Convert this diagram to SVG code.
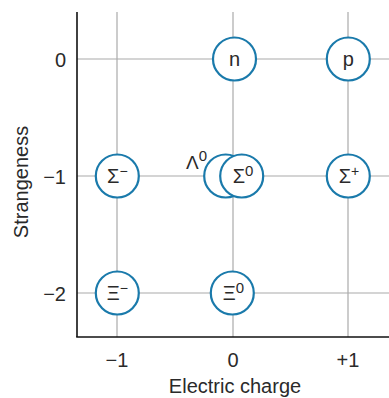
<svg xmlns="http://www.w3.org/2000/svg" width="389" height="398" viewBox="0 0 389 398">
<style>
text{font-family:"Liberation Sans","DejaVu Sans",sans-serif;fill:#2a2a2a}
.grid{stroke:#aaaaaa;stroke-width:1.2;fill:none}
.axis{stroke:#111;stroke-width:1.6;fill:none}
.node{fill:#fff;stroke:#1a7aab;stroke-width:2.2}
.tick{font-size:20px}
.lbl{font-size:20px;text-anchor:middle}
.sup{font-size:14px}
</style>
<g id="grid" class="grid">
<line x1="117" y1="12" x2="117" y2="337"/>
<line x1="233" y1="12" x2="233" y2="337"/>
<line x1="348" y1="12" x2="348" y2="337"/>
<line x1="77" y1="59" x2="389" y2="59"/>
<line x1="77" y1="176" x2="389" y2="176"/>
<line x1="77" y1="293" x2="389" y2="293"/>
</g>
<g id="axes" class="axis">
<line x1="77" y1="12" x2="77" y2="337"/>
<line x1="76.2" y1="337" x2="389" y2="337"/>
</g>
<g id="ticklabels" class="tick">
<text x="66" y="67" text-anchor="end">0</text>
<text x="66" y="184" text-anchor="end">−1</text>
<text x="66" y="301" text-anchor="end">−2</text>
<text x="117" y="367" text-anchor="middle">−1</text>
<text x="233" y="367" text-anchor="middle">0</text>
<text x="348" y="367" text-anchor="middle">+1</text>
<text x="235" y="393" text-anchor="middle">Electric charge</text>
<text transform="translate(28 182) rotate(-90)" text-anchor="middle">Strangeness</text>
</g>
<g id="n"><circle class="node" cx="234.5" cy="59" r="21.5"/><text class="lbl" x="234.5" y="66">n</text></g>
<g id="p"><circle class="node" cx="348.3" cy="59" r="21.5"/><text class="lbl" x="348.3" y="66">p</text></g>
<g id="sigma-minus"><circle class="node" cx="117.3" cy="176" r="21.5"/><text class="lbl" x="117.3" y="183">Σ<tspan class="sup" dy="-7">−</tspan></text></g>
<g id="lambda0"><circle class="node" cx="225.7" cy="176" r="21.5"/><text x="186" y="169" style="font-size:19px">Λ<tspan class="sup" style="font-size:15px" dy="-8">0</tspan></text></g>
<g id="sigma0"><circle class="node" cx="241.7" cy="176" r="21.5"/><text class="lbl" x="243" y="183">Σ<tspan class="sup" style="font-size:15px" dy="-7">0</tspan></text></g>
<g id="sigma-plus"><circle class="node" cx="348.3" cy="176" r="21.5"/><text class="lbl" x="349" y="183">Σ<tspan class="sup" dy="-7">+</tspan></text></g>
<g id="xi-minus"><circle class="node" cx="117.3" cy="293" r="21.5"/><text class="lbl" x="117.3" y="300">Ξ<tspan class="sup" dy="-7">−</tspan></text></g>
<g id="xi0"><circle class="node" cx="232.3" cy="293" r="21.5"/><text class="lbl" x="233.5" y="300">Ξ<tspan class="sup" style="font-size:15px" dy="-7">0</tspan></text></g>
</svg>
